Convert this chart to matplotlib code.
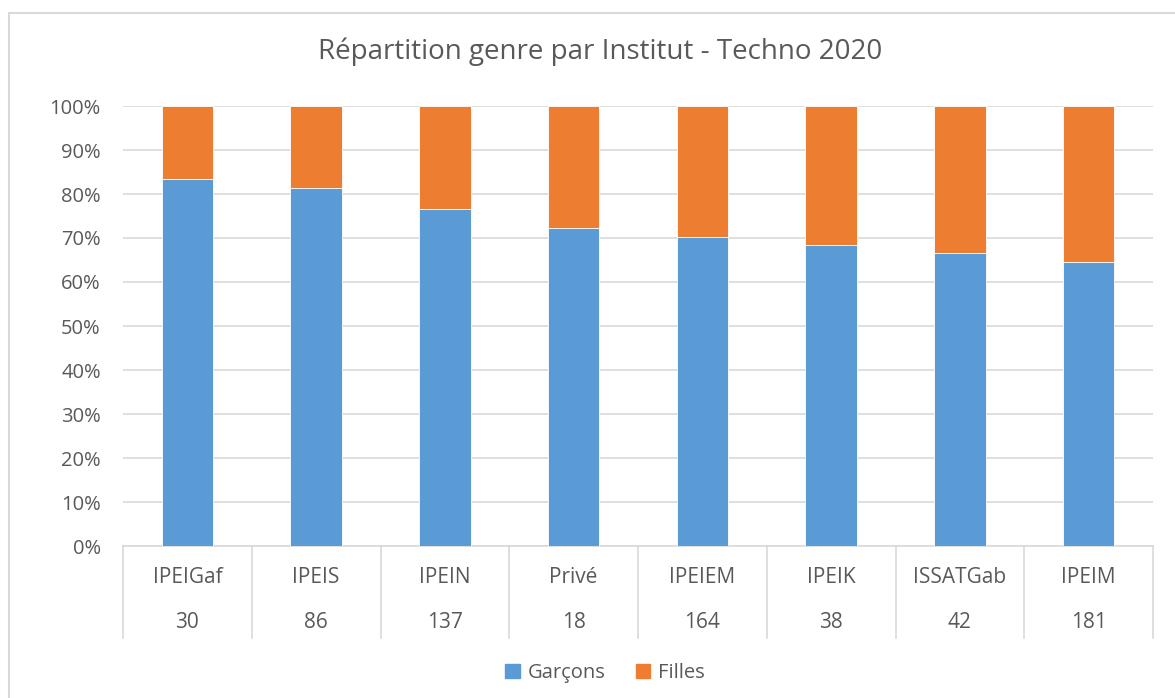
import matplotlib
matplotlib.use('Agg')
import matplotlib.pyplot as plt
from matplotlib.lines import Line2D
from matplotlib.patches import Rectangle
import numpy as np

# data
instituts = ['IPEIGaf', 'IPEIS', 'IPEIN', 'Privé', 'IPEIEM', 'IPEIK', 'ISSATGab', 'IPEIM']
totaux = [30, 86, 137, 18, 164, 38, 42, 181]
garcons = [25, 70, 105, 13, 115, 26, 28, 117]
filles = [5, 16, 32, 5, 49, 12, 14, 64]

BLUE = '#5B9BD5'
ORANGE = '#ED7D31'
GREY = '#595959'
LINE = '#D9D9D9'

plt.rcParams['font.family'] = ['Open Sans', 'DejaVu Sans']

totals = np.array(totaux, dtype=float)
pg = np.array(garcons) / totals
pf = np.array(filles) / totals
x = np.arange(len(instituts))

fig = plt.figure(figsize=(11.75, 6.98), dpi=100)
ax = fig.add_axes([123/1175, 1-546/698, (1153-123)/1175, (546-106)/698])

ax.bar(x, pg, width=0.4, color=BLUE, edgecolor='white', linewidth=0.6, zorder=3)
ax.bar(x, pf, bottom=pg, width=0.4, color=ORANGE, edgecolor='white', linewidth=0.6, zorder=3)

ax.set_xlim(-0.5, len(x) - 0.5)
ax.set_ylim(0, 1)
ax.set_yticks(np.arange(0, 1.01, 0.1))
ax.set_yticklabels([f'{int(round(v*100))}%' for v in np.arange(0, 1.01, 0.1)])
ax.tick_params(axis='y', length=0, colors=GREY, labelsize=14.5, pad=16)
ax.set_xticks([])
ax.yaxis.grid(True, color=LINE, linewidth=1.2, zorder=0)
for s in ['top', 'right', 'left']:
    ax.spines[s].set_visible(False)
ax.spines['bottom'].set_color(LINE)
ax.spines['bottom'].set_linewidth(1.2)

# two level category axis
trans = ax.get_xaxis_transform()
for i, (name, tot) in enumerate(zip(instituts, totaux)):
    ax.text(i, -0.071, name, transform=trans, ha='center', va='center', fontsize=15, color=GREY)
    ax.text(i, -0.173, str(tot), transform=trans, ha='center', va='center', fontsize=15, color=GREY)
for b in np.arange(-0.5, len(x), 1.0):
    ax.add_line(Line2D([b, b], [0, -0.209], transform=trans, color=LINE, linewidth=1.2, clip_on=False))

fig.suptitle('Répartition genre par Institut - Techno 2020', y=1-52/698, va='center',
             fontsize=20, color=GREY, x=600/1175)

handles = [Rectangle((0, 0), 1, 1, color=BLUE), Rectangle((0, 0), 1, 1, color=ORANGE)]
fig.legend(handles, ['Garçons', 'Filles'], loc='center', bbox_to_anchor=(605/1175, 1-673/698),
           ncol=2, frameon=False, fontsize=14.5, labelcolor=GREY, handlelength=0.7, handleheight=0.7,
           handletextpad=0.4, columnspacing=1.5)

# chart frame
fig.add_artist(Rectangle((9/1175, -0.1), 1.1, 1 - 13/698 + 0.1, transform=fig.transFigure,
                         fill=False, edgecolor=LINE, linewidth=1.5))

fig.savefig('out.png', dpi=100)
